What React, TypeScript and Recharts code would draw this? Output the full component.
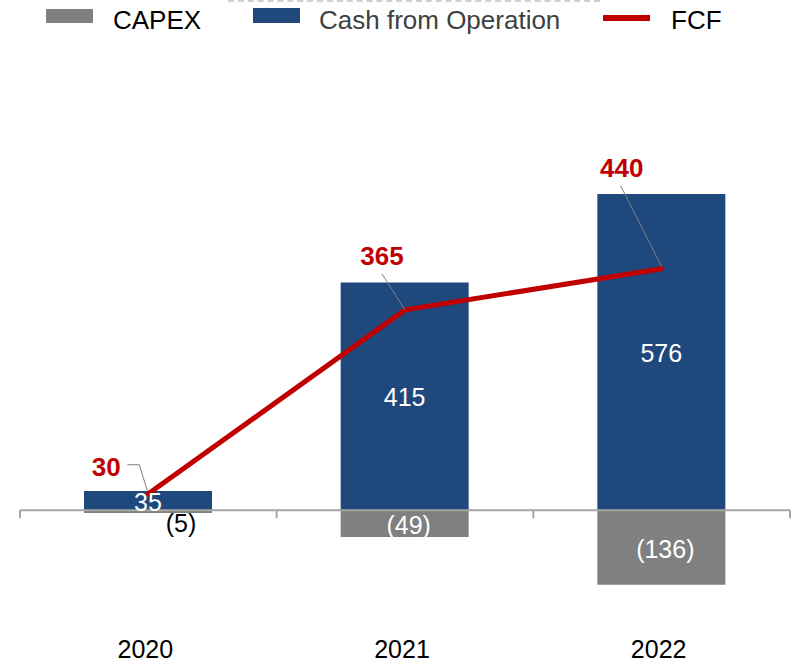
import React from 'react';
import { ComposedChart, Bar, Line, XAxis, YAxis, LabelList, ReferenceLine } from 'recharts';

const YEARS = ['2020', '2021', '2022'];
const CAPEX = [-5, -49, -136];
const CASH_FROM_OPERATION = [35, 415, 576];
const FCF = [30, 365, 440];

const BLUE = '#1F497D';
const GREY = '#808080';
const RED = '#C00000';
const FONT = '"Liberation Sans", Arial, sans-serif';

// label placement for FCF values (relative to the point) + leader line
const FCF_LABEL_OFFSETS = [
    { dx: -42, dy: -27, leader: [[-21, -29], [-9, -29], [-1, -3]] },
    { dx: -23, dy: -54, leader: [[-23, -36], [0, 0]] },
    { dx: -40, dy: -101, leader: [[-41, -83], [0, -2]] },
];

const chartData = YEARS.map((year, i) => ({
    year,
    capex: CAPEX[i],
    cash: CASH_FROM_OPERATION[i],
    fcf: FCF[i],
}));

const fmt = (v: number) => (v < 0 ? `(${Math.abs(v)})` : `${v}`);

const BarValueLabel = (props: any) => {
    const { x, y, width, height, value } = props;
    const top = Math.min(y, y + height);
    const bottom = Math.max(y, y + height);
    const small = bottom - top < 12;
    const cx = small ? x + width / 2 + 33 : x + width / 2 + (value < 0 ? 4 : 0);
    const cy = small ? bottom + 10 : (top + bottom) / 2 + 1;
    return (
        <text x={cx} y={cy} dy="0.36em" textAnchor="middle" fill={small ? '#000' : '#fff'}
            fontSize={25} fontFamily={FONT}>
            {fmt(value)}
        </text>
    );
};

const FcfLabel = (props: any) => {
    const { x, y, value, index } = props;
    const o = FCF_LABEL_OFFSETS[index];
    const pts = o.leader.map(([dx, dy]) => `${x + dx},${y + dy}`).join(' ');
    return (
        <g>
            <polyline points={pts} fill="none" stroke="#7f7f7f" strokeWidth={1} />
            <text x={x + o.dx} y={y + o.dy} dy="0.36em" textAnchor="middle" fill={RED}
                fontSize={26} fontWeight="bold" fontFamily={FONT}>
                {value}
            </text>
        </g>
    );
};

const ZeroAxis = (props: any) => {
    const { x1, y1, x2 } = props;
    const n = YEARS.length;
    const ticks = Array.from({ length: n + 1 }, (_, i) => x1 + (i * (x2 - x1)) / n);
    return (
        <g>
            <line x1={x1} y1={y1} x2={x2} y2={y1} stroke="#A6A6A6" strokeWidth={2} />
            {ticks.map((tx, i) => (
                <line key={i} x1={tx} y1={y1} x2={tx} y2={y1 + 8} stroke="#A6A6A6" strokeWidth={2} />
            ))}
        </g>
    );
};

const YearTick = (props: any) => {
    const { x, y, payload } = props;
    return (
        <text x={x - 3} y={y + 38} textAnchor="middle" fill="#000" fontSize={25} fontFamily={FONT}>
            {payload.value}
        </text>
    );
};

const legendText: React.CSSProperties = {
    position: 'absolute', top: 7, fontSize: 26, lineHeight: '26px', fontFamily: FONT, whiteSpace: 'nowrap',
};

export default function App() {
    return (
        <div style={{ position: 'absolute', left: 0, top: 0, width: 793, height: 664, background: '#fff' }}>
            <div style={{ position: 'absolute', left: 228, top: 0, width: 372, borderTop: '2px dashed #d0d0d0' }} />
            <div style={{ position: 'absolute', left: 46, top: 9, width: 47, height: 14, background: GREY }} />
            <div style={{ ...legendText, left: 113, color: '#000' }}>CAPEX</div>
            <div style={{ position: 'absolute', left: 253, top: 8, width: 47, height: 15, background: BLUE }} />
            <div style={{ ...legendText, left: 319, color: '#404040' }}>Cash from Operation</div>
            <div style={{ position: 'absolute', left: 603, top: 15, width: 47, height: 6, background: RED }} />
            <div style={{ ...legendText, left: 671, color: '#000' }}>FCF</div>

            <ComposedChart width={793} height={664} data={chartData} stackOffset="sign"
                margin={{ top: 126, right: 3, left: 20, bottom: 0 }}>
                <XAxis dataKey="year" height={44} axisLine={false} tickLine={false} tickSize={0} tickMargin={0}
                    tick={<YearTick />} interval={0} />
                <YAxis hide domain={[-200, 700]} />
                <ReferenceLine y={0} shape={<ZeroAxis />} />
                <Bar dataKey="cash" name="Cash from Operation" stackId="a" fill={BLUE} barSize={128}
                    isAnimationActive={false}>
                    <LabelList dataKey="cash" content={<BarValueLabel />} />
                </Bar>
                <Bar dataKey="capex" name="CAPEX" stackId="a" fill={GREY} barSize={128}
                    isAnimationActive={false}>
                    <LabelList dataKey="capex" content={<BarValueLabel />} />
                </Bar>
                <Line dataKey="fcf" name="FCF" stroke={RED} strokeWidth={5} strokeLinecap="round"
                    dot={false} activeDot={false} isAnimationActive={false}>
                    <LabelList dataKey="fcf" content={<FcfLabel />} />
                </Line>
            </ComposedChart>
        </div>
    );
}
